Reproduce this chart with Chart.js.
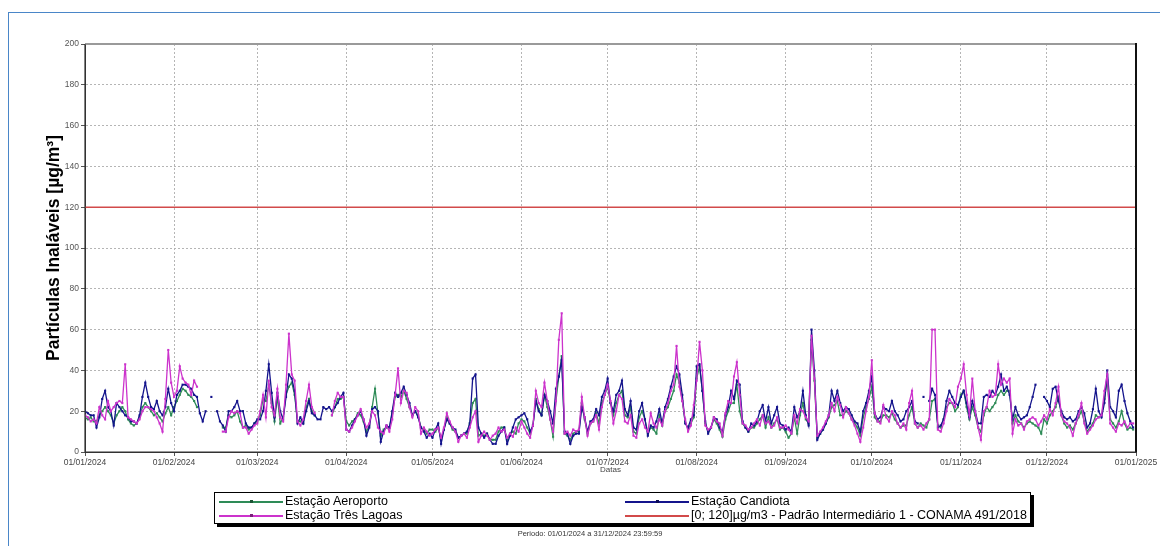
<!DOCTYPE html>
<html>
<head>
<meta charset="utf-8">
<script src="https://cdn.jsdelivr.net/npm/chart.js@4/dist/chart.umd.min.js"></script>
<style>
  html, body { margin:0; padding:0; background:#fff; }
  body { width:1160px; height:546px; position:relative; overflow:hidden; font-family:"Liberation Sans",Arial,sans-serif; }
  #frame { position:absolute; left:8px; top:12px; width:1200px; height:600px; border-left:1px solid #4a86c8; border-top:1px solid #4a86c8; }
  #wrap { position:absolute; left:0; top:0; width:1160px; height:546px; }
  #legend { position:absolute; left:214px; top:492px; width:815px; height:30px; border:1px solid #000; box-shadow:3px 3px 0 #000; background:#fff; }
  .item { position:absolute; height:14px; font-size:12.5px; line-height:14px; color:#000; white-space:nowrap; }
  .sw { position:absolute; top:7px; height:2px; }
  .dot { position:absolute; top:-1px; width:3px; height:3px; }
  .lbl { position:absolute; top:0; }
  #periodo { position:absolute; left:0; width:1180px; top:529px; text-align:center; font-size:7.5px; color:#333; }
</style>
</head>
<body>
<div id="frame"></div>
<div id="wrap"><canvas id="c" width="1160" height="546"></canvas></div>
<div id="legend"></div>
<div id="periodo">Periodo: 01/01/2024 a 31/12/2024 23:59:59</div>
<script>
// ---- data ----
const tickDays = [0,31,60,91,121,152,182,213,244,274,305,335,366];
const tickLabels = ['01/01/2024','01/02/2024','01/03/2024','01/04/2024','01/05/2024','01/06/2024','01/07/2024','01/08/2024','01/09/2024','01/10/2024','01/11/2024','01/12/2024','01/01/2025'];
const limitValue = 120;
const seriesNames = ['Estação Aeroporto','Estação Candiota','Estação Três Lagoas','[0; 120]µg/m3 - Padrão Intermediário 1 - CONAMA 491/2018'];

// Estação Candiota (daily, 01/01/2024 .. 31/12/2024)
const candiota = [
20,19,18,18,12,17,26,30,22,20,13,24,22,20,18,17,15,15,14,18,27,34,27,22,21,25,20,18,22,31,24,
20,28,30,33,33,32,31,28,27,19,15,20,null,27,null,20,15,13,10,20,20,22,25,20,20,14,12,12,14,
16,16,20,30,43,29,17,29,20,16,27,38,36,30,14,17,14,20,25,19,18,16,16,22,21,22,20,22,24,27,29,
11,10,13,16,18,20,16,8,12,21,22,20,5,10,13,12,20,29,27,29,32,28,24,18,20,17,12,10,7,9,
7,11,14,4,11,16,14,12,11,7,8,9,10,14,36,38,12,9,7,9,6,4,4,8,10,12,4,8,12,16,17,
18,19,16,10,13,25,20,18,28,25,20,14,31,37,45,10,9,4,8,9,9,22,17,10,15,16,21,18,27,30,
36,24,20,28,30,35,21,18,25,12,11,20,24,16,8,13,12,15,21,14,22,26,32,37,42,38,28,14,12,16,18,
42,43,30,15,9,12,17,16,12,10,18,22,30,26,35,33,15,12,10,14,13,15,20,23,15,22,14,18,22,14,13,
11,12,10,22,17,20,30,18,13,60,40,6,9,11,14,18,30,25,30,24,20,22,21,18,15,14,10,20,24,30,
37,19,16,17,22,21,20,25,20,18,15,16,20,22,25,15,14,null,27,null,25,31,28,12,13,16,25,30,27,24,23,
27,30,24,17,25,20,14,14,27,28,27,30,28,32,38,30,32,28,16,22,18,16,17,18,22,27,33,null,null,27,
25,22,31,32,25,20,17,16,17,15,16,20,22,19,12,14,21,31,20,17,24,40,22,20,17,30,33,25,19,15,12
];

// Estação Três Lagoas
const tresLagoas = [
18,17,15,16,14,22,18,16,25,20,22,24,25,24,43,17,16,15,14,16,20,22,22,21,20,17,14,10,26,50,34,
27,30,42,36,34,33,28,35,32,null,null,null,null,null,null,null,null,10,10,17,20,19,20,19,12,12,9,11,13,
14,20,28,17,35,22,18,31,17,15,33,58,38,35,15,13,16,25,33,22,19,null,null,null,null,null,18,25,29,27,27,
11,10,12,15,18,21,16,12,14,20,18,12,10,9,13,10,16,28,41,24,30,29,22,17,22,20,9,12,10,8,
9,11,12,7,12,19,15,12,10,5,8,9,7,12,17,20,5,8,10,8,6,8,9,12,10,11,7,9,7.5,12,10,
15,12,9,7,13,30,24,22,34,25,16,10,25,55,68,9,10,8,11,10,11,27,17,8,14,15,18,11,22,28,
33,25,14,20,28,26,15,14,18,8,7,14,16,12,10,19,14,12,16,13,20,24,30,33,52,32,25,16,10,13,23,
35,54,40,13,11,12,17,15,14,8,19,25,24,37,44,28,14,13,11,12,14,16,13,18,14,15,12,13,17,12,12,
13,11,9,18,14,21,20,17,15,57,36,8,10,12,15,18,24,20,27,23,17,22,19,16,13,9,5,12,20,27,
45,19,15,14,23,17,15,20,18,14,12,14,11,24,30,14,12,13,11,14,16,60,60,11,10,14,20,26,24,22,32,
36,43,28,18,36,20,12,6,20,22,30,27,28,43,33,36,34,36,9,16,13,14,11,15,16,17,16,13,15,18,
16,21,18,24,32,18,15,14,12,8,14,18,24,14,9,11,13,16,17,18,30,38,14,12,10,14,13,15,12,14,14
];

// Estação Aeroporto
const aeroporto = [
17,16,17,15,15,18,20,22,20,18,14,18,20,22,20,16,14,13,14,17,22,24,22,20,18,19,17,15,19,22,18,
22,25,28,31,30,28,27,25,22,null,null,null,null,null,null,null,null,12,12,18,17,18,20,15,12,13,11,12,14,
15,18,26,25,33,24,15,27,14,17,28,32,34,28,15,15,14,22,26,20,18,null,null,null,null,null,18,22,26,26,27,
15,13,15,16,19,18,15,10,13,22,31,19,8,11,12,12,19,27,28,27,30,26,22,18,20,18,12,11,9,11,
11,10,12,6,11,17,14,11,10,7,8,9,9,14,24,26,8,9,8,9,6,6,6,10,12,12,6,9,10,9,14,
16,15,12,9,13,26,21,18,28,22,16,7.5,25,37,47,9,8,6,9,10,10,24,16,9,14,15,19,14,24,28,
32,24,18,24,28,30,18,17,22,10,9,17,20,16,9,12,11,9,18,13,20,22,26,30,38,34,25,15,11,14,17,
36,42,30,14,10,12,16,14,11,7.5,16,20,24,24,33,20,14,12,10,12,12,14,16,18,12,17,12,14,16,11,12,
10,7,9,17,9,18,24,16,14,55,35,7,9,11,14,17,22,23,25,18,18,20,19,16,14,12,8,17,22,26,
32,17,15,15,18,18,17,19,16,14,12,13,13,18,22,14,12,14,13,12,16,25,26,13,12,16,22,24,24,20,22,
28,30,22,16,22,18,12,10,18,22,20,22,24,28,30,28,30,30,14,18,15,14,12,14,15,14,13,12,9,16,
14,18,20,22,27,18,14,12,13,11,14,17,20,15,10,12,14,18,17,18,26,35,16,14,12,15,20,14,11,12,11
];

const colors = { aeroporto:'#2e8b57', candiota:'#14148c', tresLagoas:'#cc33cc', limit:'#d24a4a' };

const toXY = arr => arr.map((v,i) => ({x:i, y:v}));
const lineDs = (label, arr, color) => ({
  label, data: toXY(arr), borderColor: color, backgroundColor: color,
  borderWidth: 1.3, pointRadius: 1.5, pointStyle: 'rect', pointBorderWidth: 0,
  spanGaps: false, tension: 0
});

const frameBorder = {
  id: 'frameBorder',
  afterDatasetsDraw(chart) {
    const {ctx, chartArea: a} = chart;
    ctx.save();
    ctx.lineWidth = 2;
    ctx.strokeStyle = '#9a9a9a';
    ctx.beginPath(); ctx.moveTo(a.left, a.top); ctx.lineTo(a.right, a.top); ctx.stroke();
    ctx.strokeStyle = '#111';
    ctx.beginPath(); ctx.moveTo(a.right, a.top - 1); ctx.lineTo(a.right, a.bottom); ctx.stroke();
    ctx.lineWidth = 1.2;
    ctx.strokeStyle = '#333';
    ctx.beginPath(); ctx.moveTo(a.left, a.top); ctx.lineTo(a.left, a.bottom); ctx.lineTo(a.right, a.bottom); ctx.stroke();
    ctx.restore();
  }
};

const tickFont = { family: "'Liberation Sans',Arial,sans-serif", size: 8.5 };

new Chart(document.getElementById('c'), {
  type: 'line',
  data: {
    datasets: [
      lineDs(seriesNames[2], tresLagoas, colors.tresLagoas),
      lineDs(seriesNames[1], candiota, colors.candiota),
      lineDs(seriesNames[0], aeroporto, colors.aeroporto),
      { label: seriesNames[3], data: [{x:tickDays[0], y:limitValue},{x:tickDays[tickDays.length-1], y:limitValue}],
        borderColor: colors.limit, borderWidth: 1.6, pointRadius: 0 }
    ]
  },
  options: {
    responsive: false,
    animation: false,
    devicePixelRatio: 1,
    layout: { padding: { left: 40, top: 44, right: 24, bottom: 64 } },
    plugins: { legend: { display: false }, tooltip: { enabled: false } },
    scales: {
      x: {
        type: 'linear', min: tickDays[0], max: tickDays[tickDays.length-1],
        afterBuildTicks: s => { s.ticks = tickDays.map(v => ({ value: v })); },
        afterFit: s => { s.height = 30; },
        ticks: { autoSkip: false, maxRotation: 0, padding: 2, color: '#444', font: tickFont,
                 callback: v => tickLabels[tickDays.indexOf(v)] },
        grid: { color: '#b5b5b5', lineWidth: 1, tickLength: 4, tickColor: '#555' },
        border: { display: true, color: '#333', dash: [2, 2] },
        title: { display: true, text: 'Datas', color: '#444', font: { family: tickFont.family, size: 8 }, padding: { top: 0, bottom: 7 } }
      },
      y: {
        min: 0, max: 200,
        afterFit: s => { s.width = 45; },
        ticks: { stepSize: 20, padding: 2, color: '#555', font: tickFont },
        grid: { color: '#b5b5b5', lineWidth: 1, tickLength: 4, tickColor: '#555' },
        border: { display: true, color: '#333', dash: [2, 2] },
        title: { display: true, text: 'Partículas Inaláveis [µg/m³]', color: '#000',
                 font: { family: "'Liberation Sans',Arial,sans-serif", size: 17.5, weight: 'bold' }, padding: { top: 4, bottom: 0 } }
      }
    }
  },
  plugins: [frameBorder]
});

// ---- HTML legend (2 columns) ----
const legendItems = [
  { name: seriesNames[0], color: colors.aeroporto, col: 0, row: 0, dot: true },
  { name: seriesNames[1], color: colors.candiota, col: 1, row: 0, dot: true },
  { name: seriesNames[2], color: colors.tresLagoas, col: 0, row: 1, dot: true },
  { name: seriesNames[3], color: colors.limit, col: 1, row: 1, dot: false }
];
const leg = document.getElementById('legend');
legendItems.forEach(it => {
  const d = document.createElement('div');
  d.className = 'item';
  d.style.left = (it.col === 0 ? 4 : 410) + 'px';
  d.style.top = (it.row === 0 ? 1 : 15) + 'px';
  const sw = document.createElement('div');
  sw.className = 'sw';
  sw.style.left = '0px'; sw.style.width = '64px'; sw.style.background = it.color;
  if (it.dot) {
    const dt = document.createElement('div');
    dt.className = 'dot'; dt.style.left = '31px'; dt.style.background = it.color;
    dt.style.filter = 'brightness(0.6)';
    sw.appendChild(dt);
  }
  const l = document.createElement('div');
  l.className = 'lbl'; l.style.left = '66px'; l.textContent = it.name;
  d.appendChild(sw); d.appendChild(l);
  leg.appendChild(d);
});
</script>
</body>
</html>
